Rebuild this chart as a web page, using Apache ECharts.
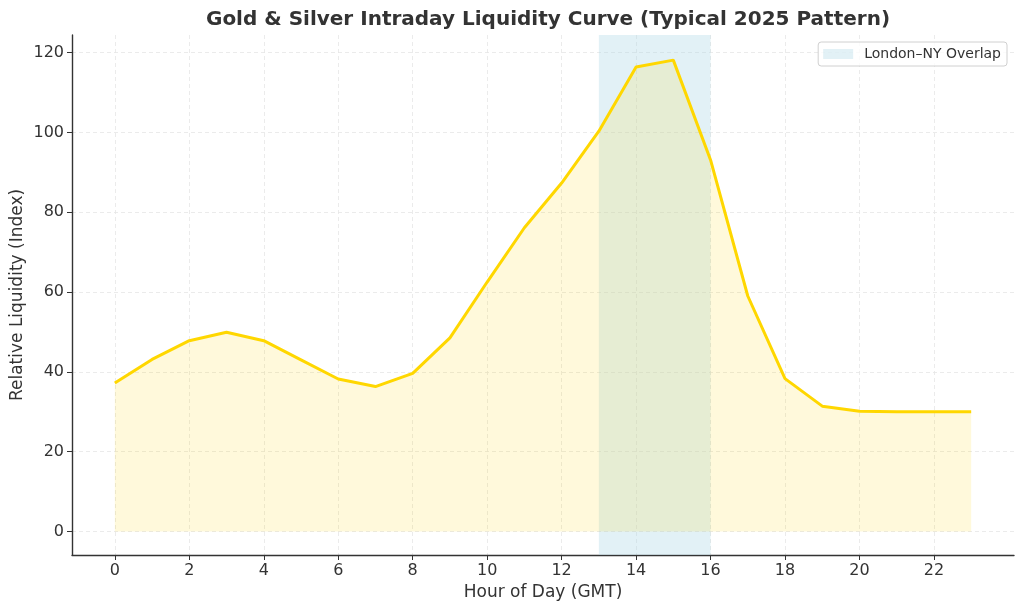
<!DOCTYPE html>
<html>
<head>
<meta charset="utf-8">
<script src="https://cdn.jsdelivr.net/npm/echarts@6/dist/echarts.min.js"></script>
<style>
  html, body { margin: 0; padding: 0; background: #fff; }
  #main { width: 1024px; height: 611px; }
</style>
</head>
<body>
<div id="main"></div>
<script>
// hour of day (GMT) and liquidity index
var hours = [0, 1, 2, 3, 4, 5, 6, 7, 8, 9, 10, 11, 12, 13, 14, 15, 16, 17, 18, 19, 20, 21, 22, 23];
var liquidity = [37.2, 43.1, 47.8, 49.9, 47.8, 43.0, 38.2, 36.3, 39.6, 48.5, 62.5, 76.1,
                 87.3, 100.3, 116.4, 118.1, 93.1, 59.0, 38.3, 31.4, 30.1, 30.0, 30.0, 30.0];
var xTicks = [0, 2, 4, 6, 8, 10, 12, 14, 16, 18, 20, 22];
var yTicks = [0, 20, 40, 60, 80, 100, 120];
var overlapStart = 13, overlapEnd = 16;
var overlapName = 'London\u2013NY Overlap';

var font = 'DejaVu Sans';
var lineData = hours.map(function (h, i) { return [h, liquidity[i]]; });

var option = {
  backgroundColor: '#fff',
  animation: false,
  title: {
    text: 'Gold & Silver Intraday Liquidity Curve (Typical 2025 Pattern)',
    left: 543, top: 5, textAlign: 'center',
    textStyle: { fontFamily: font, fontSize: 20, fontWeight: 'bold', color: '#333' }
  },
  legend: {
    right: 17, top: 42,
    orient: 'vertical',
    data: [{ name: overlapName, icon: 'rect' }],
    itemWidth: 30, itemHeight: 10, itemGap: 6,
    padding: [5, 6, 5, 5],
    borderColor: '#d0d0d0', borderWidth: 1, borderRadius: 3,
    backgroundColor: 'rgba(255,255,255,0.8)',
    textStyle: { fontFamily: font, fontSize: 14, color: '#333', padding: [0, 0, 0, 6] }
  },
  grid: { left: 72, right: 10, top: 35, bottom: 56, outerBoundsMode: 'none', containLabel: false },
  xAxis: {
    type: 'value', min: -1.15, max: 24.15,
    name: 'Hour of Day (GMT)', nameLocation: 'middle', nameGap: 29, nameMoveOverlap: false,
    nameTextStyle: { fontFamily: font, fontSize: 17, color: '#333' },
    axisLine: { onZero: false, lineStyle: { color: '#333', width: 1.4 } },
    axisTick: { show: true, customValues: xTicks, length: 5, lineStyle: { color: '#333' } },
    axisLabel: { customValues: xTicks, fontFamily: font, fontSize: 16, color: '#333', margin: 8 },
    splitLine: { show: true, lineStyle: { color: '#e6e6e6', type: [4, 3], width: 0.8 } }
  },
  yAxis: {
    type: 'value', min: -5.9, max: 124.4,
    name: 'Relative Liquidity (Index)', nameLocation: 'middle', nameGap: 46, nameMoveOverlap: false,
    nameTextStyle: { fontFamily: font, fontSize: 17, color: '#333' },
    axisLine: { show: true, onZero: false, lineStyle: { color: '#333', width: 1.4 } },
    axisTick: { show: true, customValues: yTicks, length: 5, lineStyle: { color: '#333' } },
    axisLabel: { customValues: yTicks, fontFamily: font, fontSize: 16, color: '#333', margin: 8 },
    splitLine: { show: true, lineStyle: { color: '#e6e6e6', type: [4, 3], width: 0.8 } }
  },
  series: [
    {
      name: 'Liquidity',
      type: 'line',
      data: lineData,
      showSymbol: false,
      z: 3,
      lineStyle: { color: '#FFD700', width: 3 },
      itemStyle: { color: '#FFD700' },
      areaStyle: { origin: 0, color: 'rgba(255,215,0,0.2)' }
    },
    {
      name: overlapName,
      type: 'line',
      data: [],
      z: 4,
      itemStyle: { color: 'rgba(173,216,230,0.35)' },
      markArea: {
        silent: true,
        itemStyle: { color: 'rgba(173,216,230,0.35)' },
        data: [[{ xAxis: overlapStart }, { xAxis: overlapEnd }]]
      }
    }
  ]
};

var chart = echarts.init(document.getElementById('main'));
chart.setOption(option);
</script>
</body>
</html>
